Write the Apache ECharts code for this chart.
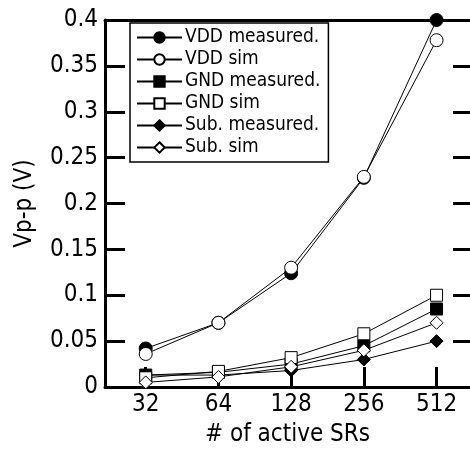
<!DOCTYPE html>
<html><head><meta charset="utf-8">
<script src="https://cdn.jsdelivr.net/npm/echarts@6/dist/echarts.min.js"></script>
<style>html,body{margin:0;padding:0;background:#fff}#c{width:470px;height:454px}</style>
</head><body><div id="c"></div>
<script>
var categories = ['32','64','128','256','512'];
var vddMeasured = [0.042, 0.070, 0.124, 0.228, 0.400];
var vddSim      = [0.036, 0.070, 0.130, 0.229, 0.378];
var gndMeasured = [0.013, 0.016, 0.025, 0.045, 0.085];
var gndSim      = [0.010, 0.017, 0.032, 0.058, 0.100];
var subMeasured = [0.013, 0.013, 0.018, 0.030, 0.050];
var subSim      = [0.005, 0.011, 0.022, 0.040, 0.070];
var yTicks = [0, 0.05, 0.1, 0.15, 0.2, 0.25, 0.3, 0.35, 0.4];

var FONT = '"Liberation Sans Narrow","DejaVu Sans Condensed","Liberation Sans",sans-serif';
function pts(arr){ return arr.map(function(v,i){ return [i, v]; }); }
function mk(name, arr, symbol, size, filled){
  return {
    name: name, type: 'line', data: pts(arr), symbol: symbol, symbolSize: size,
    lineStyle: {color: '#000', width: 1},
    itemStyle: {color: filled ? '#000' : '#fff', borderColor: '#000', borderWidth: 1},
    emphasis: {disabled: true}, animation: false, z: filled ? 3 : 4
  };
}
var chart = echarts.init(document.getElementById('c'));
chart.setOption({
  animation: false,
  grid: {left: 105, right: -2, top: 20, bottom: 67, show: false},
  legend: {
    left: 130, top: 23, orient: 'vertical', itemGap: 3, itemWidth: 45, itemHeight: 13,
    padding: [5, 8, 5, 6],
    borderColor: '#000', borderWidth: 1.5, backgroundColor: '#fff',
    textStyle: {fontFamily: FONT, fontSize: 19, color: '#000', padding: [0,0,0,-2]},
    data: ['VDD measured.', 'VDD sim', 'GND measured.', 'GND sim', 'Sub. measured.', 'Sub. sim']
  },
  xAxis: [{
    type: 'value', min: -0.56, max: 4.46,
    name: '# of active SRs', nameLocation: 'middle', nameGap: 36,
    nameTextStyle: {fontFamily: FONT, fontSize: 24, color: '#000'},
    axisLine: {show: true, onZero: false, lineStyle: {color: '#000', width: 3}},
    axisTick: {show: true, inside: true, length: 20, lineStyle: {color: '#000', width: 3}, customValues: [0,1,2,3,4]},
    axisLabel: {fontFamily: FONT, fontSize: 24, color: '#000', margin: 6, customValues: [0,1,2,3,4],
      formatter: function(v){ return categories[Math.round(v)] || ''; }},
    splitLine: {show: false}
  },{
    type: 'value', min: -0.56, max: 4.46, position: 'top',
    axisLine: {show: true, onZero: false, lineStyle: {color: '#000', width: 3}},
    axisTick: {show: false}, axisLabel: {show: false}, splitLine: {show: false}
  }],
  yAxis: [{
    type: 'value', min: 0, max: 0.4, interval: 0.05,
    name: 'Vp-p (V)', nameLocation: 'middle', nameGap: 68, nameRotate: 90,
    nameTextStyle: {fontFamily: FONT, fontSize: 24, color: '#000'},
    axisLine: {show: true, onZero: false, lineStyle: {color: '#000', width: 3}},
    axisTick: {show: true, inside: true, length: 20, lineStyle: {color: '#000', width: 3}},
    axisLabel: {fontFamily: FONT, fontSize: 24, color: '#000', margin: 7,
      formatter: function(v){ return String(parseFloat(v.toFixed(2))); }},
    splitLine: {show: false}
  },{
    type: 'value', min: 0, max: 0.4, interval: 0.05, position: 'right',
    axisLine: {show: false, onZero: false},
    axisTick: {show: true, inside: true, length: 17, lineStyle: {color: '#000', width: 3}},
    axisLabel: {show: false}, splitLine: {show: false}
  }],
  series: [
    mk('VDD measured.', vddMeasured, 'circle', 13, true),
    mk('VDD sim', vddSim, 'circle', 13, false),
    mk('GND measured.', gndMeasured, 'rect', 12, true),
    mk('GND sim', gndSim, 'rect', 12, false),
    mk('Sub. measured.', subMeasured, 'diamond', 13, true),
    mk('Sub. sim', subSim, 'diamond', 13, false)
  ]
});
</script></body></html>
